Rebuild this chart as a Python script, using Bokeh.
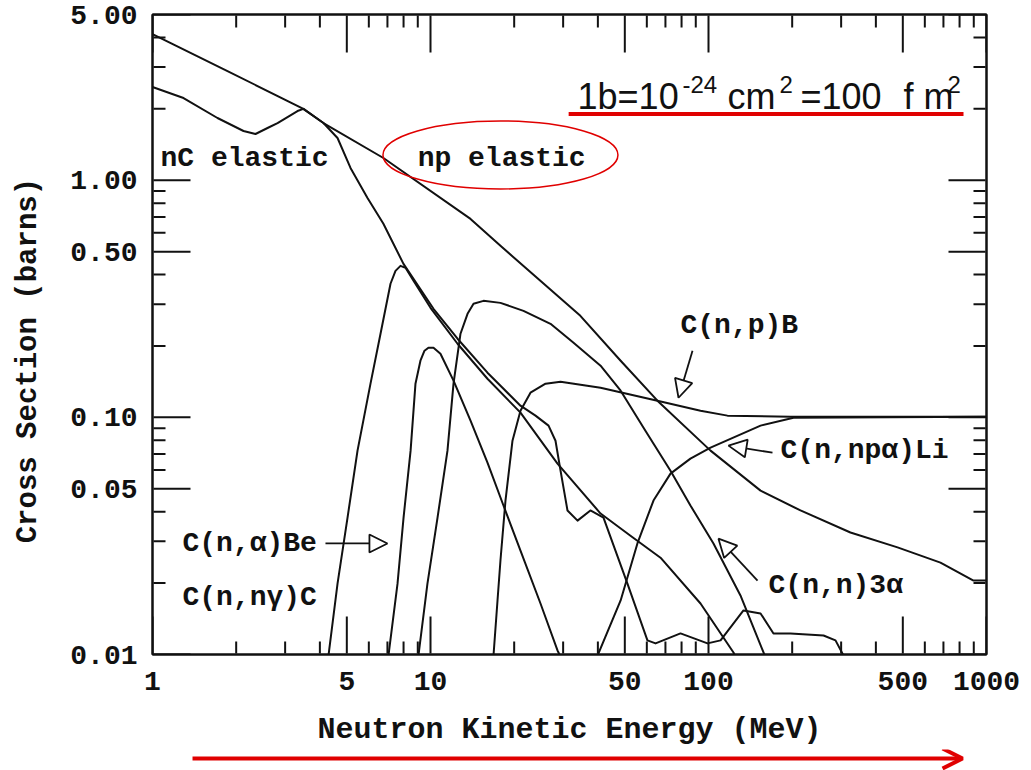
import math

from bokeh.plotting import figure
from bokeh.layouts import column
from bokeh.models import (FixedTicker, LogAxis, PrintfTickFormatter, CustomJSTickFormatter,
                          Label, Arrow, NormalHead, OpenHead, Range1d)
from bokeh.embed import file_html
from bokeh.resources import INLINE

# ---- cross sections on hydrogen and carbon: energy (MeV) vs sigma (barns) ----
np_el_E = [1.0, 1.861, 3.49, 4.12, 6.77, 13.93, 17.85, 34.6, 48.3, 65.5, 101.7, 153.9,
           214.2, 324.0, 478.6, 683.0, 898.0, 1000.0]
np_el_S = [4.13, 2.887, 2.00, 1.743, 1.241, 0.687, 0.529, 0.268, 0.1733, 0.1176, 0.0724,
           0.0491, 0.0405, 0.0327, 0.0283, 0.0244, 0.0205, 0.0205]

nc_el_E = [1.0, 1.293, 1.713, 2.125, 2.347, 2.593, 2.817, 3.323, 3.49, 4.12, 4.63, 5.155,
           5.935, 6.77, 7.995, 10.25, 12.51, 16.03, 21.07, 23.86, 26.58, 28.16, 29.36, 31.1,
           33.8, 37.6, 41.9, 51.1, 60.3, 64.5, 79.3, 99.2, 110.5, 133.6, 153.9, 171.3, 197.2,
           259.3, 286.3, 305.9]
nc_el_S = [2.472, 2.222, 1.830, 1.613, 1.567, 1.661, 1.743, 1.958, 2.00, 1.743, 1.507, 1.127,
           0.842, 0.655, 0.444, 0.287, 0.2146, 0.1543, 0.1120, 0.1017, 0.0923, 0.0797, 0.0596,
           0.0405, 0.0367, 0.0405, 0.0378, 0.0199, 0.01147, 0.01114, 0.01227, 0.01114, 0.01147,
           0.01534, 0.01490, 0.01227, 0.01227, 0.01203, 0.01147, 0.00991]

nng_E = [4.296, 4.63, 5.03, 5.464, 6.084, 6.61, 7.18, 7.483, 7.80, 8.131, 8.687, 10.0,
         12.51, 16.03, 21.07, 28.63, 40.9, 52.4, 67.2, 93.6, 123.0, 125.0]
nng_S = [0.0099, 0.0199, 0.0378, 0.0724, 0.1387, 0.2253, 0.366, 0.4148, 0.4355, 0.4272,
         0.3765, 0.2898, 0.2044, 0.1455, 0.1047, 0.0638, 0.0393, 0.0317, 0.0256, 0.01641,
         0.0102, 0.0098]

nalpha_E = [7.06, 7.61, 8.0, 8.48, 8.83, 9.20, 9.515, 9.83, 10.25, 10.86, 12.10, 13.93,
            16.03, 18.30, 21.07, 24.87, 28.63, 29.36]
nalpha_S = [0.0099, 0.0199, 0.0378, 0.0724, 0.1387, 0.1733, 0.191, 0.1966, 0.1966, 0.1855,
            0.1428, 0.0968, 0.0645, 0.0425, 0.0274, 0.01641, 0.0104, 0.0098]

n3a_E = [9.05, 9.75, 10.6, 11.51, 12.10, 12.82, 13.59, 14.28, 15.51, 17.85, 21.6, 27.02,
         32.7, 40.9, 48.3, 59.3, 73.0, 86.1, 104.2, 130.3, 157.7, 160.0]
n3a_S = [0.0099, 0.0199, 0.0378, 0.0724, 0.1387, 0.2253, 0.2734, 0.3012, 0.310, 0.304,
         0.2814, 0.248, 0.2064, 0.1651, 0.1296, 0.0879, 0.0596, 0.0425, 0.0294, 0.01774,
         0.0102, 0.0098]

np_B_E = [16.85, 17.42, 17.85, 18.61, 19.72, 21.07, 22.89, 25.93, 29.36, 40.9, 65.5, 93.6,
          117.0, 197.2, 1000.0]
np_B_S = [0.0099, 0.0169, 0.0249, 0.0446, 0.0797, 0.1067, 0.1271, 0.1387, 0.1414, 0.1334,
          0.1176, 0.1067, 0.1017, 0.1007, 0.1007]

npa_E = [39.9, 48.3, 55.5, 63.4, 73.0, 86.1, 101.7, 153.9, 202.2, 1000.0]
npa_S = [0.0099, 0.0169, 0.0294, 0.0446, 0.0579, 0.0670, 0.0746, 0.0923, 0.0997, 0.1007]

# ---- axis ticks ----
x_major = [1.0, 5.0, 10.0, 50.0, 100.0, 500.0, 1000.0]
x_minor = [2.0, 3.0, 4.0, 6.0, 7.0, 8.0, 9.0, 20.0, 30.0, 40.0, 60.0, 70.0, 80.0, 90.0,
           200.0, 300.0, 400.0, 600.0, 700.0, 800.0, 900.0]
y_major = [0.01, 0.05, 0.1, 0.5, 1.0, 5.0]
y_minor = [0.02, 0.03, 0.04, 0.06, 0.07, 0.08, 0.09, 0.2, 0.3, 0.4, 0.6, 0.7, 0.8, 0.9,
           2.0, 3.0, 4.0]

X_LO, X_HI = 1.0, 1000.0
Y_LO, Y_HI = 0.01, 5.0
FRAME_W, FRAME_H = 834, 640
BORDER_L, BORDER_R, BORDER_T, BORDER_B = 152, 45, 14, 94

TYPE_FONT = "Liberation Mono"
INK = "#111111"
RED = "#e00000"
MAJOR_LEN, MINOR_LEN = 38, 13

p = figure(frame_width=FRAME_W, frame_height=FRAME_H, x_axis_type="log", y_axis_type="log",
           x_range=Range1d(X_LO, X_HI), y_range=Range1d(Y_LO, Y_HI),
           output_backend="svg", toolbar_location=None,
           min_border_left=BORDER_L, min_border_right=BORDER_R,
           min_border_top=BORDER_T, min_border_bottom=BORDER_B)
p.grid.visible = False
p.background_fill_color = "white"
p.border_fill_color = "white"
p.outline_line_color = INK
p.outline_line_width = 2

p.add_layout(LogAxis(), "above")
p.add_layout(LogAxis(), "right")


def style_axis(ax, major, minor):
    ax.ticker = FixedTicker(ticks=major, minor_ticks=minor)
    ax.major_tick_line_color = None
    ax.minor_tick_line_color = None
    ax.major_tick_out = 0
    ax.minor_tick_out = 0
    ax.axis_line_color = INK
    ax.axis_line_width = 2
    ax.major_label_text_font = TYPE_FONT
    ax.major_label_text_font_style = "bold"
    ax.major_label_text_font_size = "28px"
    ax.major_label_text_color = INK
    ax.axis_label_text_font = TYPE_FONT
    ax.axis_label_text_font_style = "bold"
    ax.axis_label_text_color = INK


for ax in p.below + p.above:
    style_axis(ax, x_major, x_minor)
for ax in p.left + p.right:
    style_axis(ax, y_major, y_minor)

bottom = p.below[0]
bottom.formatter = PrintfTickFormatter(format="%d")
bottom.major_label_standoff = 17
bottom.axis_label = "Neutron Kinetic Energy (MeV)"
bottom.axis_label_text_font_size = "30px"
bottom.axis_label_standoff = 20

left = p.left[0]
left.formatter = PrintfTickFormatter(format="%.2f")
left.major_label_standoff = 15
left.axis_label = "Cross Section (barns)\u00a0\u00a0\u00a0"
left.axis_label_text_font_size = "29px"
left.axis_label_standoff = 22

for ax in p.above + p.right:
    ax.formatter = CustomJSTickFormatter(code="return ''")
    ax.major_label_standoff = 0
    ax.major_label_text_font_size = "1px"

# ---- curves ----
for xs, ys in [(np_el_E, np_el_S), (nc_el_E, nc_el_S), (nng_E, nng_S), (nalpha_E, nalpha_S),
               (n3a_E, n3a_S), (np_B_E, np_B_S), (npa_E, npa_S)]:
    p.line(xs, ys, line_color=INK, line_width=2, line_join="round")

# ---- curve labels ----
def tag(x, y, text, size="28px"):
    p.add_layout(Label(x=x, y=y, text=text, text_font=TYPE_FONT, text_font_style="bold",
                       text_font_size=size, text_color=INK, text_align="left",
                       text_baseline="middle"))


tag(1.069, 1.241, "nC elastic")
tag(8.99, 1.241, "np elastic")
tag(79.3, 0.2433, "C(n,p)B")
tag(181.6, 0.0724, "C(n,np\u03b1)Li")
tag(164.4, 0.01954, "C(n,n)3\u03b1")
tag(1.282, 0.0294, "C(n,\u03b1)Be")
tag(1.282, 0.0174, "C(n,n\u03b3)C")


def pointer(x0, y0, x1, y1):
    p.add_layout(Arrow(x_start=x0, y_start=y0, x_end=x1, y_end=y1, line_color=INK,
                       line_width=1.8,
                       end=NormalHead(size=18, fill_color="white", line_color=INK,
                                      line_width=1.8)))


pointer(87.6, 0.191, 78.0, 0.121)      # C(n,p)B
pointer(169.9, 0.0710, 118.0, 0.0760)  # C(n,npα)Li
pointer(150.1, 0.0205, 108.6, 0.0308)  # C(n,n)3α
pointer(4.19, 0.0294, 7.00, 0.0294)    # C(n,α)Be

# ---- unit reminder with underline ----
def unit_text(x, y, text, size):
    p.add_layout(Label(x=x, y=y, text=text, text_font="Liberation Sans", text_font_size=size,
                       text_color=INK, text_align="left", text_baseline="alphabetic"))


BASE, SUP = 2.266, 2.545
unit_text(33.8, BASE, "1b=10", "36px")
unit_text(80.6, SUP, "-24", "24px")
unit_text(117.0, BASE, "cm", "36px")
unit_text(180.0, SUP, "2", "24px")
unit_text(214.2, BASE, "=100", "36px")
unit_text(502.9, BASE, "f m", "36px")
unit_text(724.0, SUP, "2", "24px")

p.add_layout(Arrow(x_start=31.4, y_start=1.903, x_end=826.6, y_end=1.903, line_color=RED,
                   line_width=4, end=None))

# ring around the np elastic label
p.ellipse(x=[17.85], y=[1.278], width=235, height=68, width_units="screen",
          height_units="screen", fill_color=None, line_color=RED, line_width=1.5)

# ---- inward ticks on all four sides, added last as head-less arrows ----
x_px_per_decade = FRAME_W / math.log10(X_HI / X_LO)
y_px_per_decade = FRAME_H / math.log10(Y_HI / Y_LO)
x_step_in = 10 ** (1.0 / x_px_per_decade)   # one pixel inside the frame, along x
y_step_in = 10 ** (1.0 / y_px_per_decade)   # one pixel inside the frame, along y


def tick(x0, y0, x1, y1):
    p.add_layout(Arrow(x_start=x0, y_start=y0, x_end=x1, y_end=y1, end=None,
                       line_color=INK, line_width=2, line_cap="butt"))


for values, length in ((x_major, MAJOR_LEN), (x_minor, MINOR_LEN)):
    k = 10 ** (length / y_px_per_decade)
    for v in values:
        tick(v, Y_LO * y_step_in, v, Y_LO * k)
        tick(v, Y_HI / y_step_in, v, Y_HI / k)

for values, length in ((y_major, MAJOR_LEN), (y_minor, MINOR_LEN)):
    k = 10 ** (length / x_px_per_decade)
    for v in values:
        tick(X_LO * x_step_in, v, X_LO * k, v)
        tick(X_HI / x_step_in, v, X_HI / k, v)

# ---- strip below the chart: direction of increasing energy ----
strip = figure(frame_width=FRAME_W, frame_height=22, x_axis_type="log",
               x_range=Range1d(X_LO, X_HI), y_range=Range1d(0, 22),
               output_backend="svg", toolbar_location=None,
               x_axis_location=None, y_axis_location=None,
               min_border_left=BORDER_L, min_border_right=BORDER_R,
               min_border_top=0, min_border_bottom=0)
strip.grid.visible = False
strip.outline_line_color = None
strip.add_layout(Arrow(x_start=1.393, y_start=13, x_end=820.0, y_end=13, line_color=RED,
                       line_width=4, end=OpenHead(size=20, line_color=RED, line_width=4)))

page = column(p, strip, spacing=0)
open("out.html", "w").write(file_html(page, INLINE))
